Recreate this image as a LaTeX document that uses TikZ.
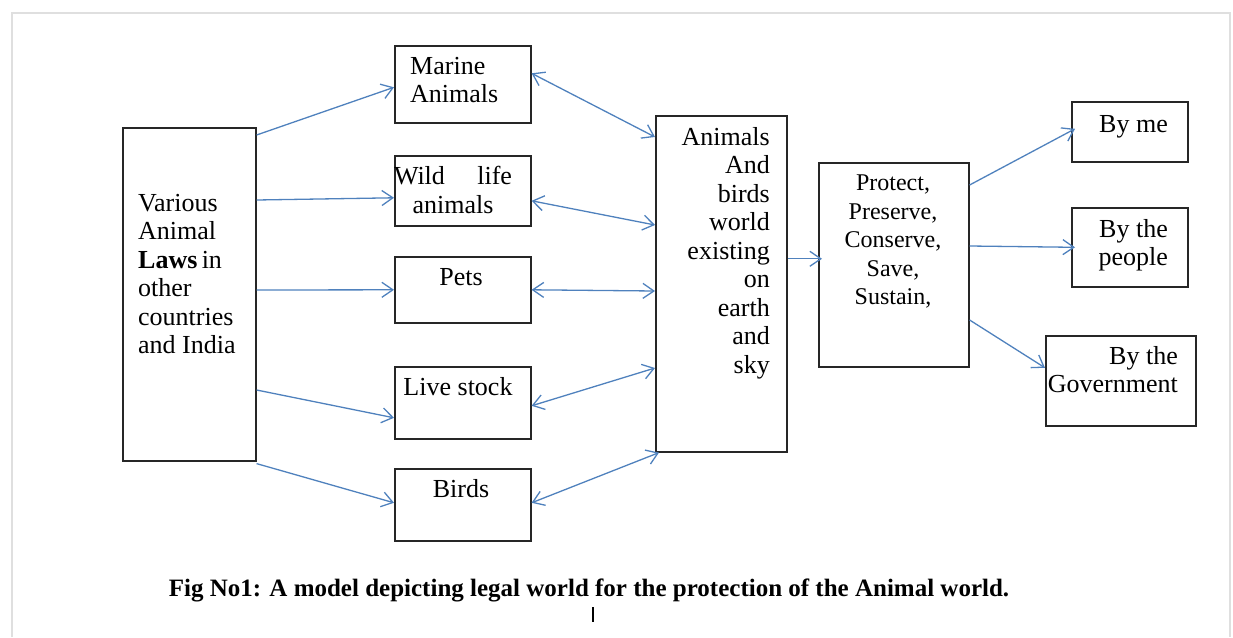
\documentclass[tikz,border=0pt]{standalone}
\usepackage{fontspec}
\setmainfont{Liberation Serif}
\usetikzlibrary{arrows.meta}

\definecolor{linkblue}{RGB}{79,129,189}
\tikzset{
  box/.style={draw=black!85, line width=1.6pt, anchor=north west, inner sep=0pt},
  txt/.style={font=\fontsize{26}{28.5}\selectfont, inner sep=0pt},
  link/.style={draw=linkblue, line width=1.3pt, -{Straight Barb[length=11pt,width=15pt]}},
  twolink/.style={link, {Straight Barb[length=11pt,width=15pt]}-{Straight Barb[length=11pt,width=15pt]}}
}

\begin{document}
\begin{tikzpicture}[x=1pt,y=-1pt]
\useasboundingbox (0,0) rectangle (1233,637);
\draw[gray!25, line width=1.5pt] (12,637) -- (12,13) -- (1230,13) -- (1230,637);

% left column
\node[box, minimum width=133pt, minimum height=333pt] (laws) at (122,127) {};
\node[txt, anchor=north west, align=left] (laws-t) at (138,194)
  {Various\\Animal\\\textbf{Laws}\,in\\other\\countries\\and India};

% kinds of animals
\node[box, minimum width=136pt, minimum height=77pt] (marine) at (394,45) {};
\node[txt, anchor=north west, align=left] (marine-t) at (410,57) {Marine\\Animals};

\node[box, minimum width=136pt, minimum height=70pt] (wild) at (394,155) {};
\node[txt, anchor=north, align=center] (wild-t) at (453,166)
  {\makebox[118pt][s]{Wild\hfill life}\\animals};

\node[box, minimum width=136pt, minimum height=66pt] (pets) at (394,256) {};
\node[txt, anchor=north] (pets-t) at (461,268) {Pets};

\node[box, minimum width=136pt, minimum height=72pt] (live) at (394,366) {};
\node[txt, anchor=north] (live-t) at (458,377) {Live stock};

\node[box, minimum width=136pt, minimum height=72pt] (birds) at (394,468) {};
\node[txt, anchor=north] (birds-t) at (461,479) {Birds};

% animal world
\node[box, minimum width=131pt, minimum height=336pt] (anim) at (655,115) {};
\node[txt, anchor=north east, align=right] (anim-t) at (770,127)
  {Animals\\And\\birds\\world\\existing\\on\\earth\\and\\sky};

\node[box, minimum width=150pt, minimum height=204pt] (prot) at (818,162) {};
\node[txt, font=\fontsize{24}{28.5}\selectfont, anchor=north, align=center] (prot-t) at (893,175)
  {Protect,\\Preserve,\\Conserve,\\Save,\\Sustain,};

% who protects
\node[box, minimum width=116pt, minimum height=60pt] (byme) at (1071,101) {};
\node[txt, anchor=north east] (byme-t) at (1168,115) {By me};

\node[box, minimum width=116pt, minimum height=79pt] (people) at (1071,207) {};
\node[txt, anchor=north east, align=right] (people-t) at (1168,219) {By the\\people};

\node[box, minimum width=150pt, minimum height=90pt] (gov) at (1045,335) {};
\node[txt, anchor=north east, align=right] (gov-t) at (1178,346) {By the\\Government};

% connectors
\draw[link] ([yshift=-8pt]laws.north east) -- ([yshift=-3pt]marine.west);
\draw[link] ([yshift=-73pt]laws.north east) -- ([yshift=-7pt]wild.west);
\draw[link] ([yshift=-163pt]laws.north east) -- (pets.west);
\draw[link] ([yshift=-263pt]laws.north east) -- ([yshift=-15pt]live.west);
\draw[link] ([yshift=-2pt]laws.south east) -- ([yshift=2pt]birds.west);

\draw[twolink] ([yshift=11pt]marine.east) -- ([yshift=-22pt]anim.north west);
\draw[twolink] ([yshift=-10pt]wild.east) -- ([yshift=-110pt]anim.north west);
\draw[twolink] (pets.east) -- ([yshift=-176pt]anim.north west);
\draw[twolink] ([yshift=-3pt]live.east) -- ([yshift=-253pt]anim.north west);
\draw[twolink] ([yshift=2pt]birds.east) -- ([xshift=4pt]anim.south west);

\draw[link] ([yshift=25pt]anim.east) -- ([yshift=6pt,xshift=4pt]prot.west);
\draw[link] ([yshift=-23pt]prot.north east) -- ([yshift=3pt,xshift=4pt]byme.west);
\draw[link] ([yshift=-84pt]prot.north east) -- ([xshift=4pt]people.west);
\draw[link] ([yshift=-158pt]prot.north east) -- ([yshift=13pt]gov.west);

% caption
\node[font=\fontsize{25}{28}\selectfont\bfseries, inner sep=0pt] (caption) at (589,590)
  {Fig No1: A model depicting legal world for the protection of the Animal world.};
\draw[line width=2.2pt] (593,607) -- (593,622);
\end{tikzpicture}
\end{document}
